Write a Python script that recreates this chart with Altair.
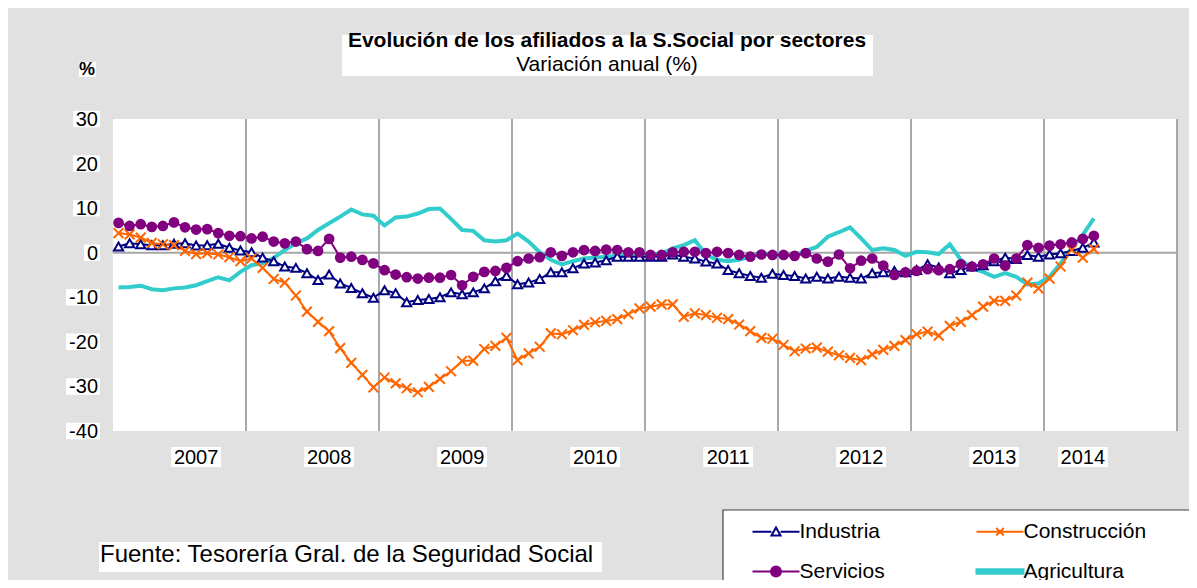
import altair as alt
import pandas as pd

# ---------------- data ----------------
series_names = ["Industria", "Construcción", "Servicios", "Agricultura"]

industria = [1.4, 2.1, 1.9, 1.7, 1.7, 2.0, 2.1, 1.6, 1.7, 2.0, 1.1, 0.5,
             0.1, -1.1, -1.9, -3.1, -3.4, -4.6, -6.1, -4.9, -6.9, -7.9, -9.1, -10.1,
             -8.4, -9.1, -11.1, -10.6, -10.4, -10.0, -8.9, -9.3, -8.9, -8.0, -6.4, -5.2,
             -7.1, -6.7, -5.9, -4.4, -4.4, -3.5, -2.4, -2.2, -1.7, -0.9, -0.9, -0.9,
             -0.9, -0.9, -0.4, -0.9, -1.3, -2.0, -2.4, -3.9, -4.6, -5.2, -5.6, -4.7,
             -5.0, -5.2, -5.8, -5.4, -5.8, -5.4, -5.6, -5.8, -4.6, -4.4, -4.1, -4.4,
             -3.9, -2.6, -3.3, -4.6, -3.9, -3.1, -2.8, -1.9, -1.1, -1.4, -0.5, -0.9,
             -0.4, -0.1, 0.4, 1.1, 2.3]

construccion = [4.4, 4.1, 3.4, 2.2, 1.9, 1.7, 0.4, -0.3, -0.1, -0.4, -1.0, -1.9,
                -1.3, -3.4, -5.9, -6.7, -9.6, -13.2, -15.5, -17.6, -21.4, -24.7, -27.4, -30.2,
                -28.0, -29.3, -30.4, -31.3, -30.1, -28.3, -26.6, -24.3, -24.2, -21.6, -20.9, -19.1,
                -24.1, -22.6, -21.1, -18.1, -18.3, -17.4, -16.2, -15.6, -15.3, -14.9, -13.8, -12.5,
                -12.1, -11.6, -11.6, -14.4, -13.6, -14.0, -14.6, -14.9, -16.1, -17.6, -19.1, -19.3,
                -20.7, -22.1, -21.5, -21.3, -22.2, -23.0, -23.6, -24.1, -22.8, -21.8, -20.9, -19.6,
                -18.3, -17.7, -18.6, -16.4, -15.5, -14.0, -12.1, -10.8, -10.8, -9.6, -6.7, -8.0,
                -5.8, -3.1, 0.6, -1.1, 0.8]

servicios = [6.7, 6.0, 6.4, 5.8, 6.0, 6.8, 5.7, 5.2, 5.3, 4.4, 3.8, 3.7,
             3.2, 3.6, 2.5, 2.1, 2.5, 0.8, 0.4, 3.1, -1.1, -0.9, -1.6, -2.4,
             -3.9, -4.9, -5.5, -5.8, -5.6, -5.6, -5.0, -7.3, -5.4, -4.3, -4.1, -3.4,
             -1.9, -1.3, -1.0, 0.1, -0.7, 0.1, 0.6, 0.4, 0.7, 0.6, 0.1, 0.1,
             -0.5, -0.5, 0.1, 0.2, 0.2, -0.1, 0.2, -0.1, -0.5, -0.9, -0.4, -0.5,
             -0.5, -0.7, -0.1, -1.3, -2.0, -0.4, -3.5, -1.8, -1.3, -2.9, -5.0, -4.4,
             -4.1, -3.7, -3.9, -3.7, -2.6, -3.1, -2.6, -1.3, -2.9, -1.3, 1.7, 1.1,
             1.6, 1.9, 2.3, 3.1, 3.8]

agricultura = [-7.8, -7.7, -7.4, -8.2, -8.4, -8.0, -7.8, -7.3, -6.4, -5.5, -6.2, -4.3,
               -2.8, -2.4, -1.2, 0.6, 2.1, 3.2, 5.1, 6.6, 8.1, 9.7, 8.6, 8.3,
               6.1, 7.9, 8.1, 8.8, 9.8, 9.9, 7.6, 5.1, 4.9, 2.8, 2.5, 2.8,
               4.3, 2.5, 0.1, -1.6, -2.6, -1.9, -1.3, -1.1, -0.9, -0.7, -0.5, -0.5,
               -0.5, -0.2, 1.0, 1.7, 2.8, -0.4, -1.6, -1.9, -1.6, -0.9, -0.1, -0.5,
               -0.4, -0.7, 0.4, 1.3, 3.6, 4.6, 5.7, 3.2, 0.6, 1.0, 0.6, -0.7,
               0.2, 0.1, -0.3, 1.9, -1.6, -3.5, -4.3, -5.4, -4.6, -5.4, -7.1, -6.9,
               -5.4, -2.4, 1.0, 4.0, 7.7]

year_labels = ["2007", "2008", "2009", "2010", "2011", "2012", "2013", "2014"]
year_label_pos = [7, 19, 31, 43, 55, 67, 79, 87]          # month index (0 = Jan 2007)
year_edges = [11.5, 23.5, 35.5, 47.5, 59.5, 71.5, 83.5, 95.5]
y_ticks = [-40, -30, -20, -10, 0, 10, 20, 30]
y_tick_labels = ["-40", "-30", "-20", "-10", "0", "10", "20", "30"]

title_text = "Evolución de los afiliados a la S.Social por sectores"
subtitle_text = "Variación anual (%)"
source_text = "Fuente: Tesorería Gral. de la Seguridad Social"
unit_text = "%"

rows = []
for name, vals in zip(series_names, [industria, construccion, servicios, agricultura]):
    for i, v in enumerate(vals):
        rows.append({"mes": i, "valor": v, "serie": name})
df = pd.DataFrame(rows)

# ---------------- styles ----------------
NAVY, ORANGE, PURPLE, CYAN = "#000080", "#FF6600", "#800080", "#33CCCC"
BG = "#E1E1E1"
GRID = "#8C8C8C"
FONT = "Liberation Sans"
W, H = 1064, 312

xs = alt.Scale(domain=[-0.5, 95.5], nice=False, zero=False)
ys = alt.Scale(domain=[-40, 30], nice=False, zero=False)

X = alt.X("mes:Q", scale=xs, axis=None)
Y = alt.Y("valor:Q", scale=ys, axis=alt.Axis(
    values=y_ticks, grid=True, gridDash=[7, 4], gridColor=GRID, gridWidth=1,
    domainColor=GRID, domainWidth=1.5, tickColor=GRID, tickSize=6, tickWidth=1,
    labels=False, title=None))

one = pd.DataFrame({"k": [0]})


def box(x1, x2, y1, y2, stroke=None):
    kw = dict(fill="white")
    if stroke:
        kw.update(stroke=stroke, strokeWidth=1.2)
    return alt.Chart(one).mark_rect(**kw).encode(
        x=alt.value(x1), x2=alt.value(x2), y=alt.value(y1), y2=alt.value(y2))


def label(text, x, y, size, weight="normal", align="left"):
    return alt.Chart(one).mark_text(font=FONT, fontSize=size, fontWeight=weight, color="black",
                                    align=align, baseline="alphabetic", text=text).encode(
        x=alt.value(x), y=alt.value(y))


boxes = [
    box(229, 760, -84, -43),      # title
    box(-34, -17, -57, -42),      # %
    box(-14, 489, 423, 453),      # source
    box(610, 1100, 391, 500, stroke="#404040"),  # legend frame
]

edges = alt.Chart(pd.DataFrame({"mes": year_edges})).mark_rule(
    color=GRID, strokeWidth=1.5).encode(x=X)

zero = alt.Chart(pd.DataFrame({"valor": [0]})).mark_rule(
    color="#A6A6A6", strokeWidth=2).encode(y=Y)

base = alt.Chart(df)


def sel(name):
    return base.transform_filter(alt.datum.serie == name)


agri_line = sel("Agricultura").mark_line(color=CYAN, strokeWidth=4).encode(x=X, y=Y)
ind_line = sel("Industria").mark_line(color=NAVY, strokeWidth=2).encode(x=X, y=Y)
ind_pts = sel("Industria").mark_point(shape="triangle-up", size=85, filled=True, fill="white",
                                      stroke=NAVY, strokeWidth=2, opacity=1).encode(x=X, y=Y)
con_line = sel("Construcción").mark_line(color=ORANGE, strokeWidth=2).encode(x=X, y=Y)
con_pts = sel("Construcción").mark_point(shape="M-1,-1L1,1M-1,1L1,-1", size=95, filled=False,
                                         stroke=ORANGE, strokeWidth=2, opacity=1).encode(x=X, y=Y)
ser_line = sel("Servicios").mark_line(color=PURPLE, strokeWidth=2).encode(x=X, y=Y)
ser_pts = sel("Servicios").mark_point(shape="circle", size=115, filled=True, color=PURPLE,
                                      opacity=1).encode(x=X, y=Y)

# legend (library legend, symbols built from custom paths; 1 unit = 5 px)
leg = alt.Legend(title=None, orient="none", legendX=635, legendY=402, direction="horizontal",
                 columns=2, symbolSize=100, symbolStrokeWidth=2, symbolOffset=17.5,
                 labelFont=FONT, labelFontSize=21, labelColor="black", labelOffset=13,
                 labelBaseline="middle", columnPadding=87, rowPadding=18, padding=0)
sym_paths = [
    "M-4.7,0H-0.9M0.9,0H4.7M-0.9,0.75L0,-0.85L0.9,0.75Z",
    "M-4.7,0H4.7M-0.75,-0.75L0.75,0.75M-0.75,0.75L0.75,-0.75",
    "M-4.7,0H4.7M-1,0A1,1 0 1,0 1,0A1,1 0 1,0 -1,0Z",
    "M-4.7,-0.45H4.7V0.45H-4.7Z",
]
legend_layer = base.transform_filter("false").mark_point(filled=True, opacity=1).encode(
    x=X, y=Y,
    stroke=alt.Stroke("serie:N", scale=alt.Scale(domain=series_names,
                                                 range=[NAVY, ORANGE, PURPLE, CYAN]), legend=leg),
    fill=alt.Fill("serie:N", scale=alt.Scale(domain=series_names,
                                             range=["white", ORANGE, PURPLE, CYAN]), legend=leg),
    shape=alt.Shape("serie:N", scale=alt.Scale(domain=series_names, range=sym_paths), legend=leg),
)

# year labels (with white boxes, as in the reference)
ydf = pd.DataFrame({"mes": year_label_pos, "label": year_labels})
year_boxes = alt.Chart(ydf).transform_calculate(
    a="datum.mes - 2.25", b="datum.mes + 2.25").mark_rect(fill="white").encode(
    x=alt.X("a:Q", scale=xs, axis=None), x2="b:Q", y=alt.value(328), y2=alt.value(348))
year_text = alt.Chart(ydf).mark_text(font=FONT, fontSize=20, color="black", baseline="middle").encode(
    x=X, y=alt.value(339), text="label:N")

# y tick labels (with white boxes)
ylab = pd.DataFrame({"valor": y_ticks, "label": y_tick_labels})
ylab["n"] = ylab["label"].str.len()
ybox_layers = []
for n, x1 in [(1, -29), (2, -40), (3, -47)]:
    ybox_layers.append(
        alt.Chart(ylab).transform_filter(alt.datum.n == n).transform_calculate(
            a="datum.valor + 1.85", b="datum.valor - 1.85").mark_rect(fill="white").encode(
            y=alt.Y("a:Q", scale=ys, axis=None), y2="b:Q", x=alt.value(x1), x2=alt.value(-13)))
ytext = alt.Chart(ylab).mark_text(font=FONT, fontSize=20, color="black", align="right",
                                  baseline="middle", dy=1).encode(
    y=Y, x=alt.value(-15), text="label:N")

texts = [
    label(title_text, 494, -72, 21, weight="bold", align="center"),
    label(subtitle_text, 494, -48, 21, align="center"),
    label(source_text, -13, 443, 24),
    label(unit_text, -26, -44, 18, weight="bold", align="center"),
]

chart = alt.layer(
    *boxes, edges, zero, agri_line, ind_line, con_line, ser_line,
    ind_pts, con_pts, ser_pts, legend_layer, year_boxes, year_text,
    *ybox_layers, ytext, *texts
).properties(
    width=W, height=H,
    padding={"left": 105, "top": 111, "right": 12, "bottom": 149},
    autosize=alt.AutoSizeParams(type="none"),
).configure(background=BG).configure_view(fill="white", strokeWidth=0)

chart.save("out.html", embed_options={"renderer": "svg", "actions": False})
